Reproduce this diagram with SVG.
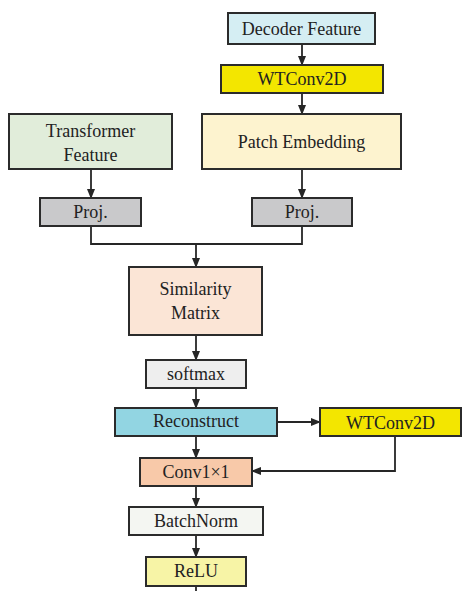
<svg xmlns="http://www.w3.org/2000/svg" width="462" height="591" viewBox="0 0 462 591">
<defs>
<marker id="ah" markerWidth="10" markerHeight="8" refX="9" refY="4" orient="auto" markerUnits="userSpaceOnUse">
<path d="M0,0 L10,4 L0,8 Z" fill="#262626"/>
</marker>
<style>
.box{stroke:#2b2b2b;stroke-width:2}
.t{font-family:"Liberation Serif","Times New Roman",serif;font-size:18px;fill:#222;text-anchor:middle}
.c{fill:none;stroke:#262626;stroke-width:1.8}
</style>
</defs>
<rect width="462" height="591" fill="#ffffff"/>
<g id="connectors">
<path class="c" d="M302,44 V65" marker-end="url(#ah)"/>
<path class="c" d="M302,93 V114" marker-end="url(#ah)"/>
<path class="c" d="M302,169 V198" marker-end="url(#ah)"/>
<path class="c" d="M91,169 V198" marker-end="url(#ah)"/>
<path class="c" d="M91,226 V244 H302 V226"/>
<path class="c" d="M196,244 V267" marker-end="url(#ah)"/>
<path class="c" d="M196,335 V360" marker-end="url(#ah)"/>
<path class="c" d="M196,388 V408" marker-end="url(#ah)"/>
<path class="c" d="M277,422 H320" marker-end="url(#ah)"/>
<path class="c" d="M196,436 V458" marker-end="url(#ah)"/>
<path class="c" d="M395,436 V471 H252" marker-end="url(#ah)"/>
<path class="c" d="M196,486 V507" marker-end="url(#ah)"/>
<path class="c" d="M196,535 V557" marker-end="url(#ah)"/>
<path class="c" d="M196,586 V591"/>
</g>
<g id="decoder-feature">
<rect class="box" x="228" y="13" width="147" height="31" fill="#d5eef3"/>
<text class="t" x="301.5" y="35">Decoder Feature</text>
</g>
<g id="wtconv2d-top">
<rect class="box" x="221" y="65" width="162" height="28" fill="#f3e600"/>
<text class="t" x="302" y="85">WTConv2D</text>
</g>
<g id="patch-embedding">
<rect class="box" x="202" y="114" width="199" height="55" fill="#fdf3cf"/>
<text class="t" x="301.5" y="148">Patch Embedding</text>
</g>
<g id="transformer-feature">
<rect class="box" x="9" y="114" width="163" height="55" fill="#e1edda"/>
<text class="t" x="90.5" y="137">Transformer</text>
<text class="t" x="90.5" y="161">Feature</text>
</g>
<g id="proj-left">
<rect class="box" x="40" y="198" width="101" height="28" fill="#c9c9cb"/>
<text class="t" x="90.5" y="218">Proj.</text>
</g>
<g id="proj-right">
<rect class="box" x="252" y="198" width="100" height="28" fill="#c9c9cb"/>
<text class="t" x="302" y="218">Proj.</text>
</g>
<g id="similarity-matrix">
<rect class="box" x="129" y="267" width="133" height="68" fill="#fbe5d6"/>
<text class="t" x="195.5" y="295">Similarity</text>
<text class="t" x="195.5" y="319">Matrix</text>
</g>
<g id="softmax">
<rect class="box" x="146" y="360" width="100" height="28" fill="#eeeeee"/>
<text class="t" x="196" y="380">softmax</text>
</g>
<g id="reconstruct">
<rect class="box" x="115" y="408" width="162" height="28" fill="#92d5e2"/>
<text class="t" x="196" y="427">Reconstruct</text>
</g>
<g id="wtconv2d-right">
<rect class="box" x="320" y="408" width="141" height="28" fill="#f3e600"/>
<text class="t" x="390.5" y="429">WTConv2D</text>
</g>
<g id="conv1x1">
<rect class="box" x="140" y="458" width="112" height="28" fill="#f8c9a9"/>
<text class="t" x="196" y="478">Conv1×1</text>
</g>
<g id="batchnorm">
<rect class="box" x="129" y="507" width="134" height="28" fill="#f4f6f2"/>
<text class="t" x="196" y="527">BatchNorm</text>
</g>
<g id="relu">
<rect class="box" x="146" y="557" width="100" height="29" fill="#f7f4a6"/>
<text class="t" x="196" y="577">ReLU</text>
</g>
</svg>
